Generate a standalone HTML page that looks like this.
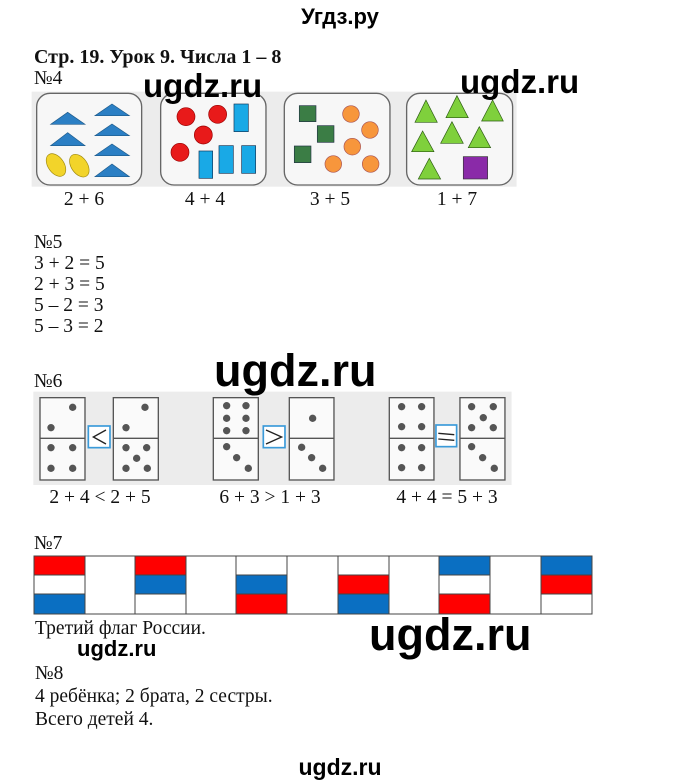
<!DOCTYPE html>
<html><head><meta charset="utf-8"><style>
html,body{margin:0;padding:0;background:#fff;}
svg{display:block}
.s{font-family:"Liberation Serif",serif;font-size:19.5px;fill:#111}
.w{font-family:"Liberation Sans",sans-serif;font-weight:bold;fill:#000}
</style></head><body>
<svg width="680" height="783" viewBox="0 0 680 783" xmlns="http://www.w3.org/2000/svg">
<text x="340" y="24" text-anchor="middle" class="w" style="font-size:22px">Угдз.ру</text>
<text x="34" y="63" class="s" style="font-weight:bold;font-size:20px">Стр. 19. Урок 9. Числа 1 – 8</text>
<text x="34" y="84" class="s">№4</text>

<!-- No4 -->
<g transform="translate(30,85) scale(0.3333)">
<rect x="5" y="20" width="1455" height="285" fill="#ececec"/>
<g fill="#f7f7f7" stroke="#666" stroke-width="4">
<rect x="20" y="25" width="315" height="275" rx="40"/>
<rect x="392" y="25" width="316" height="275" rx="40"/>
<rect x="763" y="25" width="317" height="275" rx="40"/>
<rect x="1130" y="25" width="318" height="275" rx="40"/>
</g>
<g fill="#2b7fc4" stroke="#1d5a8a" stroke-width="2">
<polygon points="113,82 165,118 62,118"/>
<polygon points="113,143 165,182 62,182"/>
<polygon points="246,57 298,92 195,92"/>
<polygon points="246,117 298,152 195,152"/>
<polygon points="246,177 298,212 195,212"/>
<polygon points="246,237 298,275 195,275"/>
</g>
<g fill="#f2d42a" stroke="#a08a10" stroke-width="2">
<ellipse cx="78" cy="240" rx="24" ry="38" transform="rotate(-35 78 240)"/>
<ellipse cx="148" cy="242" rx="24" ry="38" transform="rotate(-35 148 242)"/>
</g>
<g fill="#e81a1a" stroke="#900" stroke-width="2">
<circle cx="468" cy="95" r="27"/><circle cx="563" cy="88" r="27"/>
<circle cx="520" cy="150" r="27"/><circle cx="450" cy="202" r="27"/>
</g>
<g fill="#19a9e6" stroke="#135" stroke-width="2">
<rect x="612" y="57" width="43" height="83"/>
<rect x="507" y="198" width="41" height="82"/>
<rect x="567" y="182" width="43" height="83"/>
<rect x="635" y="182" width="42" height="83"/>
</g>
<g fill="#3b7d45" stroke="#234" stroke-width="2">
<rect x="808" y="62" width="50" height="48"/>
<rect x="862" y="122" width="50" height="50"/>
<rect x="793" y="183" width="50" height="50"/>
</g>
<g fill="#f7963c" stroke="#a55" stroke-width="2">
<circle cx="963" cy="87" r="25"/><circle cx="1020" cy="135" r="25"/>
<circle cx="967" cy="185" r="25"/><circle cx="910" cy="237" r="25"/>
<circle cx="1022" cy="237" r="25"/>
</g>
<g fill="#7fd03c" stroke="#2a5a10" stroke-width="2">
<polygon points="1188,45 1222,112 1155,112"/>
<polygon points="1281,32 1315,98 1248,98"/>
<polygon points="1388,45 1420,108 1355,108"/>
<polygon points="1178,138 1212,200 1145,200"/>
<polygon points="1266,110 1300,175 1232,175"/>
<polygon points="1348,125 1382,188 1315,188"/>
<polygon points="1198,220 1232,282 1165,282"/>
</g>
<rect x="1300" y="215" width="73" height="67" fill="#8a2aa8" stroke="#333" stroke-width="2"/>
</g>
<g class="s" text-anchor="middle">
<text x="84" y="205">2 + 6</text><text x="205" y="205">4 + 4</text>
<text x="330" y="205">3 + 5</text><text x="457" y="205">1 + 7</text>
</g>

<text x="34" y="248" class="s">№5</text>
<text x="34" y="269" class="s">3 + 2 = 5</text>
<text x="34" y="290" class="s">2 + 3 = 5</text>
<text x="34" y="311" class="s">5 – 2 = 3</text>
<text x="34" y="332" class="s">5 – 3 = 2</text>
<text x="34" y="387" class="s">№6</text>

<!-- No6 -->
<g transform="translate(30,385) scale(0.3333)">
<rect x="10" y="20" width="1435" height="280" fill="#ececec"/>
<g fill="#fafafa" stroke="#555" stroke-width="4">
<rect x="30" y="38" width="135" height="247"/><rect x="250" y="38" width="135" height="247"/>
<rect x="550" y="38" width="135" height="247"/><rect x="778" y="38" width="134" height="247"/>
<rect x="1078" y="38" width="134" height="247"/><rect x="1290" y="38" width="135" height="247"/>
</g>
<g stroke="#555" stroke-width="4">
<line x1="30" y1="160" x2="165" y2="160"/><line x1="250" y1="160" x2="385" y2="160"/>
<line x1="550" y1="160" x2="685" y2="160"/><line x1="778" y1="160" x2="912" y2="160"/>
<line x1="1078" y1="160" x2="1212" y2="160"/><line x1="1290" y1="160" x2="1425" y2="160"/>
</g>
<g fill="#555">
<circle cx="128" cy="67" r="11"/><circle cx="63" cy="128" r="11"/>
<circle cx="63" cy="188" r="11"/><circle cx="128" cy="188" r="11"/><circle cx="63" cy="250" r="11"/><circle cx="128" cy="250" r="11"/>
<circle cx="345" cy="67" r="11"/><circle cx="288" cy="128" r="11"/>
<circle cx="288" cy="188" r="11"/><circle cx="350" cy="188" r="11"/><circle cx="320" cy="220" r="11"/><circle cx="288" cy="250" r="11"/><circle cx="352" cy="250" r="11"/>
<circle cx="590" cy="62" r="11"/><circle cx="648" cy="62" r="11"/><circle cx="590" cy="100" r="11"/><circle cx="648" cy="100" r="11"/><circle cx="590" cy="137" r="11"/><circle cx="648" cy="137" r="11"/>
<circle cx="590" cy="185" r="11"/><circle cx="620" cy="218" r="11"/><circle cx="655" cy="250" r="11"/>
<circle cx="848" cy="100" r="11"/>
<circle cx="815" cy="187" r="11"/><circle cx="845" cy="218" r="11"/><circle cx="878" cy="250" r="11"/>
<circle cx="1115" cy="65" r="11"/><circle cx="1175" cy="65" r="11"/><circle cx="1115" cy="125" r="11"/><circle cx="1175" cy="125" r="11"/>
<circle cx="1115" cy="188" r="11"/><circle cx="1175" cy="188" r="11"/><circle cx="1115" cy="248" r="11"/><circle cx="1175" cy="248" r="11"/>
<circle cx="1325" cy="65" r="11"/><circle cx="1390" cy="65" r="11"/><circle cx="1360" cy="98" r="11"/><circle cx="1325" cy="128" r="11"/><circle cx="1390" cy="128" r="11"/>
<circle cx="1325" cy="185" r="11"/><circle cx="1358" cy="218" r="11"/><circle cx="1393" cy="250" r="11"/>
</g>
<g fill="#fff" stroke="#3a9ad9" stroke-width="5">
<rect x="175" y="123" width="65" height="65"/><rect x="700" y="123" width="65" height="65"/><rect x="1218" y="120" width="62" height="65"/>
</g>
<g fill="none" stroke="#222" stroke-width="4">
<polyline points="228,135 190,156 228,177"/>
<polyline points="708,135 755,156 708,177"/>
<line x1="1225" y1="145" x2="1273" y2="149"/><line x1="1225" y1="162" x2="1273" y2="166"/>
</g>
</g>
<g class="s" text-anchor="middle">
<text x="100" y="503">2 + 4 &lt; 2 + 5</text>
<text x="270" y="503">6 + 3 &gt; 1 + 3</text>
<text x="447" y="503">4 + 4 = 5 + 3</text>
</g>

<text x="34" y="549" class="s">№7</text>
<!-- flags -->
<g stroke="#444" stroke-width="1">
<rect x="34" y="556" width="558" height="58" fill="#fff"/>
<rect x="34" y="556" width="51" height="19" fill="#f00"/><rect x="34" y="594" width="51" height="20" fill="#0a6fc2"/>
<rect x="135" y="556" width="51" height="19" fill="#f00"/><rect x="135" y="575" width="51" height="19" fill="#0a6fc2"/>
<rect x="236" y="575" width="51" height="19" fill="#0a6fc2"/><rect x="236" y="594" width="51" height="20" fill="#f00"/>
<rect x="338" y="575" width="51" height="19" fill="#f00"/><rect x="338" y="594" width="51" height="20" fill="#0a6fc2"/>
<rect x="439" y="556" width="51" height="19" fill="#0a6fc2"/><rect x="439" y="594" width="51" height="20" fill="#f00"/>
<rect x="541" y="556" width="51" height="19" fill="#0a6fc2"/><rect x="541" y="575" width="51" height="19" fill="#f00"/>
</g>
<g stroke="#444" stroke-width="1">
<line x1="85" y1="556" x2="85" y2="614"/><line x1="135" y1="556" x2="135" y2="614"/>
<line x1="186" y1="556" x2="186" y2="614"/><line x1="236" y1="556" x2="236" y2="614"/>
<line x1="287" y1="556" x2="287" y2="614"/><line x1="338" y1="556" x2="338" y2="614"/>
<line x1="389" y1="556" x2="389" y2="614"/><line x1="439" y1="556" x2="439" y2="614"/>
<line x1="490" y1="556" x2="490" y2="614"/><line x1="541" y1="556" x2="541" y2="614"/>
</g>

<text x="35" y="634" class="s">Третий флаг России.</text>
<text x="35" y="679" class="s">№8</text>
<text x="35" y="702" class="s">4 ребёнка; 2 брата, 2 сестры.</text>
<text x="35" y="725" class="s">Всего детей 4.</text>

<text x="143" y="97" class="w" style="font-size:33px">ugdz.ru</text>
<text x="460" y="93" class="w" style="font-size:33px">ugdz.ru</text>
<text x="214" y="386" class="w" style="font-size:45px">ugdz.ru</text>
<text x="369" y="650" class="w" style="font-size:45px">ugdz.ru</text>
<text x="77" y="656" class="w" style="font-size:22px">ugdz.ru</text>
<text x="340" y="775" text-anchor="middle" class="w" style="font-size:23px">ugdz.ru</text>
</svg>
</body></html>
